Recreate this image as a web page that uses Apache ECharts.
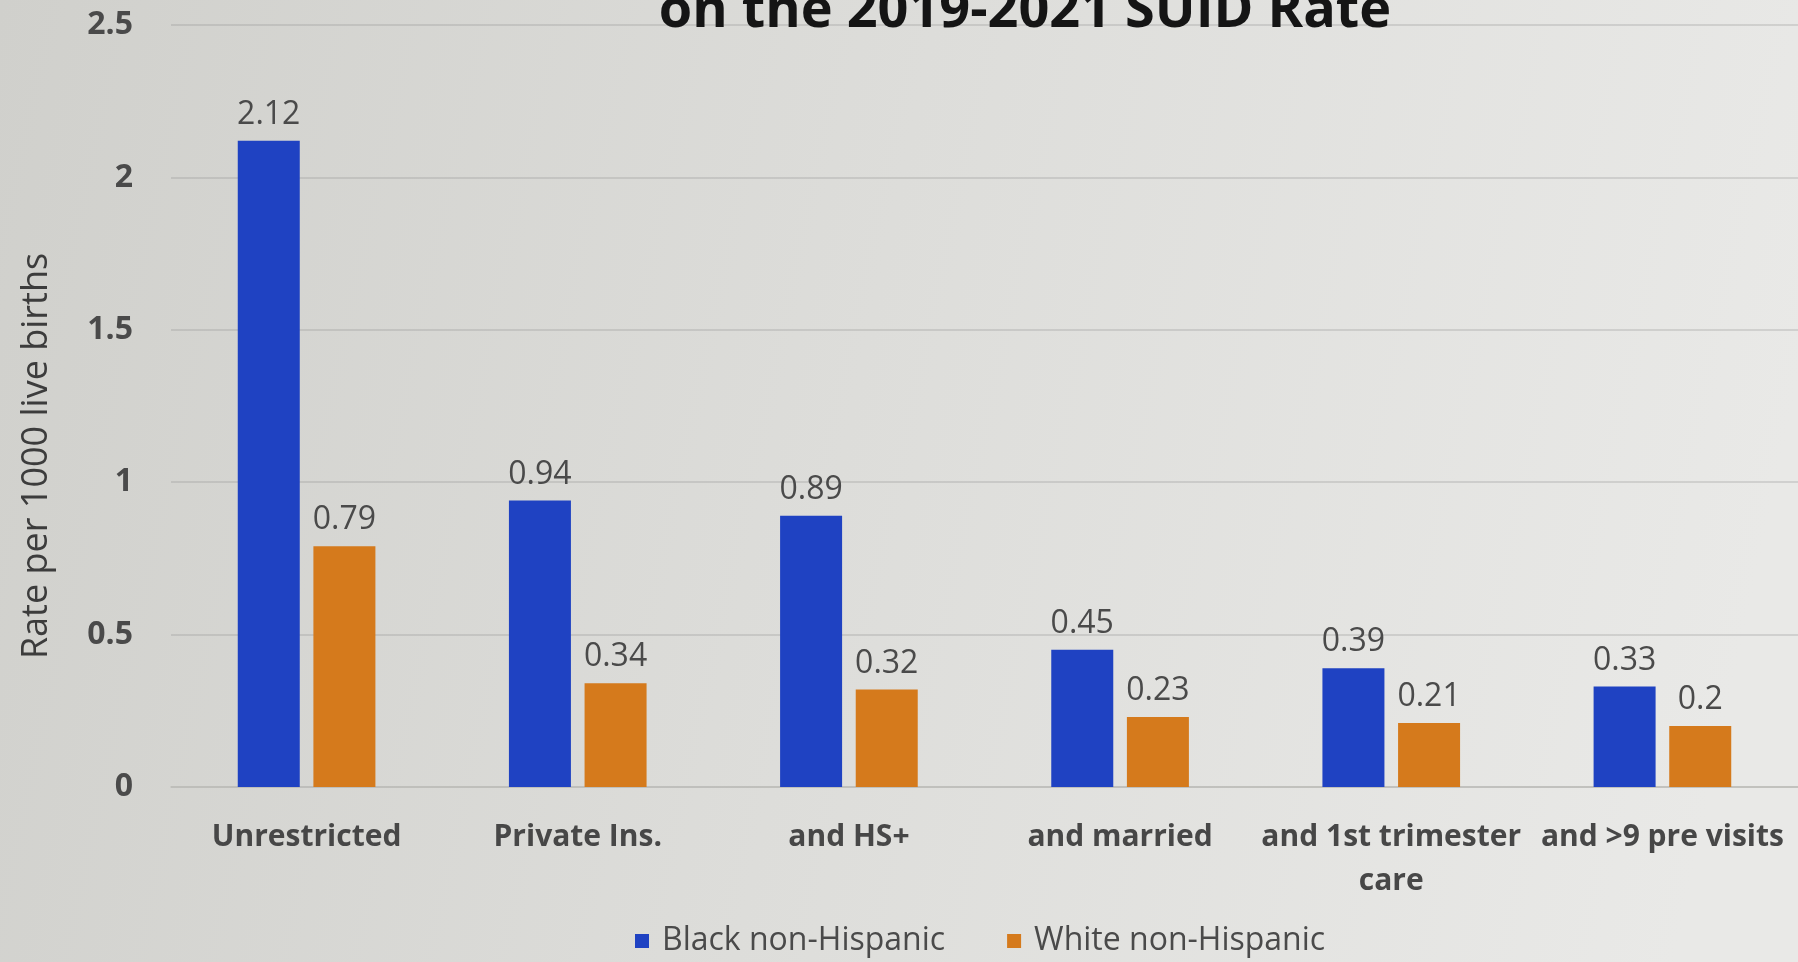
<!DOCTYPE html>
<html>
<head>
<meta charset="utf-8">
<title>SUID Rate 2019-2021</title>
<script src="https://cdn.jsdelivr.net/npm/echarts@6/dist/echarts.min.js"></script>
<style>
  html, body { margin: 0; padding: 0; width: 100%; height: 100%; overflow: hidden; }
  #chart { width: 1798px; height: 962px; }
</style>
</head>
<body>
<div id="chart"></div>
<script>
// Restriction steps along the x axis
const categories = ['Unrestricted', 'Private Ins.', 'and HS+', 'and married', 'and 1st trimester\ncare', 'and >9 pre visits'];
// Rate per 1000 live births
const blackNonHispanic = [2.12, 0.94, 0.89, 0.45, 0.39, 0.33];
const whiteNonHispanic = [0.79, 0.34, 0.32, 0.23, 0.21, 0.2];
const seriesNames = ['Black non-Hispanic', 'White non-Hispanic'];
const yTicks = [0, 0.5, 1, 1.5, 2, 2.5];

const fontFamily = '"Open Sans", Lato, sans-serif';
const chart = echarts.init(document.getElementById('chart'));

chart.setOption({
  backgroundColor: {
    type: 'linear', x: 0, y: 0, x2: 1, y2: 0.4,
    colorStops: [
      { offset: 0, color: '#d0d0cc' },
      { offset: 0.5, color: '#dddddA' },
      { offset: 1, color: '#e9e9e7' }
    ]
  },
  textStyle: { fontFamily },
  title: {
    text: 'on the 2019-2021 SUID Rate',
    left: 1020,
    textAlign: 'center',
    top: -20,
    textStyle: { fontSize: 54, fontWeight: 'bold', color: '#151515', fontFamily }
  },
  legend: {
    data: seriesNames,
    bottom: 0,
    left: 630,
    itemWidth: 14,
    itemHeight: 14,
    itemGap: 62,
    icon: 'rect',
    textStyle: { fontSize: 32, color: '#4a4a4a', fontFamily, padding: [0, 0, 0, 8] }
  },
  grid: { left: 171, right: -18, top: 25, bottom: 175 },
  xAxis: {
    type: 'category',
    data: categories,
    axisTick: { show: false },
    axisLine: { lineStyle: { color: '#bdbdb9', width: 1.5 } },
    axisLabel: {
      fontSize: 30, fontWeight: 'bold', color: '#474747', margin: 28,
      lineHeight: 44, interval: 0, fontFamily
    }
  },
  yAxis: {
    type: 'value',
    min: yTicks[0],
    max: yTicks[yTicks.length - 1],
    interval: 0.5,
    name: 'Rate per 1000 live births',
    nameLocation: 'middle',
    nameRotate: 90,
    nameGap: 116,
    nameTextStyle: { fontSize: 36, color: '#3c3c3c', fontFamily, padding: [0, 100, 0, 0] },
    axisLine: { show: false },
    axisTick: { show: false },
    axisLabel: { fontSize: 32, fontWeight: 'bold', color: '#4a4a4a', margin: 38, fontFamily },
    splitLine: { lineStyle: { color: 'rgba(140,140,140,0.35)', width: 1.5 } }
  },
  series: [
    {
      name: seriesNames[0],
      type: 'bar',
      data: blackNonHispanic,
      barWidth: 62,
      barGap: '22%',
      itemStyle: { color: '#1f42c2' },
      label: {
        show: true, position: 'top', distance: 10,
        fontSize: 32, color: '#4a4a4a', fontFamily
      }
    },
    {
      name: seriesNames[1],
      type: 'bar',
      data: whiteNonHispanic,
      barWidth: 62,
      itemStyle: { color: '#d57a1c' },
      label: {
        show: true, position: 'top', distance: 10,
        fontSize: 32, color: '#4a4a4a', fontFamily
      }
    }
  ]
});
</script>
</body>
</html>
